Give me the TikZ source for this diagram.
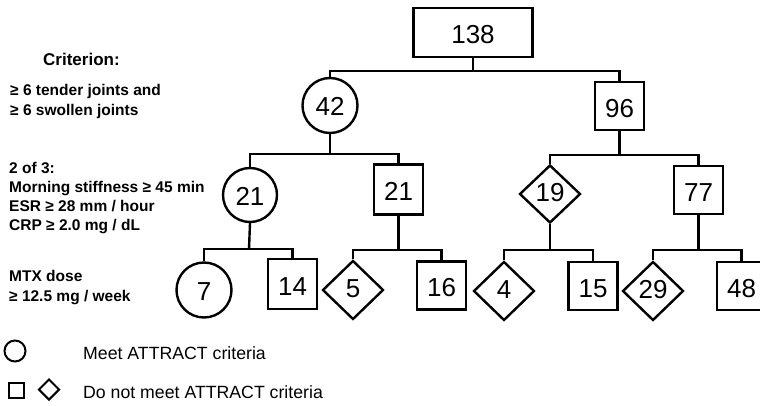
\documentclass[tikz,border=0pt]{standalone}
\usepackage{fontspec}
\setmainfont{Liberation Sans}
\usetikzlibrary{shapes.geometric}
\begin{document}
\begin{tikzpicture}[x=1pt,y=-1pt, line width=2.4pt,
  num/.style={font=\fontsize{26}{26}\selectfont, inner sep=0pt, draw},
  boxnode/.style={num, rectangle, minimum width=49pt, minimum height=48pt, text height=22.6pt, text depth=0pt},
  circnode/.style={num, circle, minimum size=55pt, text height=20.6pt, text depth=0pt},
  dianode/.style={num, diamond, minimum width=61pt, minimum height=59pt, text height=18.6pt, text depth=3.5pt},
  lab/.style={font=\fontsize{15.5}{19.5}\selectfont\bfseries, align=left, inner sep=0pt, anchor=west},
  leg/.style={font=\fontsize{17.7}{20}\selectfont, inner sep=0pt, anchor=west},
  legsym/.style={draw, inner sep=0pt, line width=2pt}]
\clip (0,0) rectangle (760,406);
% tree nodes
\node[boxnode, minimum width=119pt, minimum height=49pt] (n138) at (473,32.5) {138};
\node[circnode] (n42) at (330,105.5) {42};
\node[boxnode] (n96) at (619.5,106) {96};
\node[circnode, minimum size=54pt] (n21a) at (250,195) {21};
\node[boxnode, minimum height=50pt] (n21b) at (398.5,189.5) {21};
\node[dianode, minimum height=58pt] (n19) at (550,194) {19};
\node[boxnode] (n77) at (698.5,190) {77};
\node[circnode] (n7) at (204,290) {7};
\node[boxnode, minimum height=50pt] (n14) at (292.5,284) {14};
\node[dianode] (n5) at (353,290) {5};
\node[boxnode] (n16) at (441.5,285.5) {16};
\node[dianode] (n4) at (504,291) {4};
\node[boxnode] (n15) at (593,286) {15};
\node[dianode] (n29) at (653,291) {29};
\node[boxnode] (n48) at (741.5,286) {48};
% bar junctions
\coordinate (b0) at (473,71);
\coordinate (b1) at (330,154);
\coordinate (b2) at (619.5,155);
\coordinate (b3) at (249,249);
\coordinate (b4) at (398.5,250);
\coordinate (b5) at (550,250);
\coordinate (b6) at (698.5,250);
% connectors
\draw (n138.south) -- (b0);
\draw (n42.north) |- (b0) -| (n96.north);
\draw (n42.south) -- (b1);
\draw (n21a.north) |- (b1) -| (n21b.north);
\draw (n96.south) -- (b2);
\draw (n19.north) |- (b2) -| (n77.north);
\draw (n21a.south) -- (b3);
\draw (n7.north) |- (b3) -| (n14.north);
\draw (n21b.south) -- (b4);
\draw (n5.north) |- (b4) -| (n16.north);
\draw (n19.south) -- (b5);
\draw (n4.north) |- (b5) -| (n15.north);
\draw (n77.south) -- (b6);
\draw (n29.north) |- (b6) -| (n48.north);
% left labels
\node[lab, font=\fontsize{17}{20}\selectfont\bfseries] (c0) at (42,59) {Criterion:};
\node[lab, font=\fontsize{15.5}{20}\selectfont\bfseries] (c1) at (9,101.5) {≥ 6 tender joints and\\≥ 6 swollen joints};
\node[lab, font=\fontsize{15.5}{19}\selectfont\bfseries] (c2) at (8,198.5) {2 of 3:\\Morning stiffness ≥ 45 min\\ESR ≥ 28 mm / hour\\CRP ≥ 2.0 mg / dL};
\node[lab, font=\fontsize{15.5}{20}\selectfont\bfseries] (c3) at (8,288) {MTX dose\\≥ 12.5 mg / week};
% legend
\node[legsym, circle, minimum size=21pt] (lc) at (15,351) {};
\node[leg] (lt1) at (82,353) {Meet ATTRACT criteria};
\node[legsym, rectangle, minimum size=15pt] (ls) at (16,390) {};
\node[legsym, diamond, minimum width=21pt, minimum height=21pt] (ld) at (49,389.5) {};
\node[leg] (lt2) at (82,392) {Do not meet ATTRACT criteria};
\end{tikzpicture}
\end{document}
